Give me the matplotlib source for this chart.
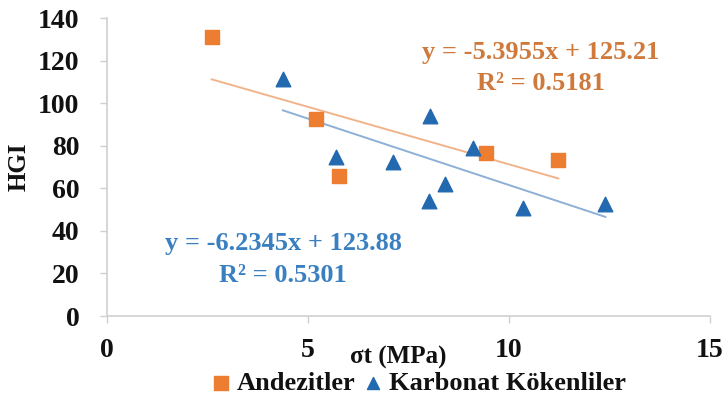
import matplotlib
matplotlib.use("Agg")
import matplotlib.pyplot as plt
import numpy as np

# Andezitler
and_x = [2.60, 5.20, 5.78, 9.44, 11.23]
and_y = [131.0, 92.5, 65.7, 76.6, 73.4]

# Karbonat Kökenliler
karb_x = [4.37, 5.70, 7.11, 8.03, 9.10, 8.42, 8.02, 10.36, 12.40]
karb_y = [111.2, 74.7, 72.3, 93.9, 78.9, 62.1, 54.2, 50.8, 52.4]

# trend katsayilari (grafikteki denklemler)
and_fit = (-5.3955, 125.21)
karb_fit = (-6.2345, 123.88)

x_ticks = [0, 5, 10, 15]
y_ticks = [0, 20, 40, 60, 80, 100, 120, 140]

orange = "#ED7D31"
blue = "#2369B0"
serif = ["Liberation Serif", "DejaVu Serif"]
ink = "#111111"

plt.rcParams["font.family"] = serif
plt.rcParams["font.weight"] = "bold"

fig = plt.figure(figsize=(7.25, 4), dpi=100)
ax = fig.add_axes([0.148, 0.21, 0.831, 0.745])

ax.scatter(and_x, and_y, marker="s", s=100, color=orange, label="Andezitler", zorder=3)
ax.scatter(karb_x, karb_y, marker="^", s=110, color=blue, label="Karbonat Kökenliler", zorder=3)

# trend cizgileri
xa = np.array([min(and_x), max(and_x)])
ax.plot(xa, and_fit[0] * xa + and_fit[1], color="#F0B48C", lw=1.4, zorder=2)
xk = np.array([min(karb_x), max(karb_x)])
ax.plot(xk, karb_fit[0] * xk + karb_fit[1], color="#8DB0D6", lw=1.4, zorder=2)

eq_size = 19
ax.text(10.8, 123.6, "y = -5.3955x + 125.21", color="#CF7A3C", fontsize=eq_size,
        fontweight="bold", ha="center", va="center")
ax.text(10.8, 109, "R² = 0.5181", color="#CF7A3C", fontsize=eq_size,
        fontweight="bold", ha="center", va="center")
ax.text(4.38, 34, "y = -6.2345x + 123.88", color="#3A80C0", fontsize=eq_size,
        fontweight="bold", ha="center", va="center")
ax.text(4.38, 19, "R² = 0.5301", color="#3A80C0", fontsize=eq_size,
        fontweight="bold", ha="center", va="center")

ax.set_xlim(0, 15)
ax.set_ylim(0, 140)
ax.set_xticks(x_ticks)
ax.set_yticks(y_ticks)
ax.tick_params(axis="both", labelsize=20, color="#D0D0D0", length=5, width=1,
               labelcolor=ink)
ax.tick_params(axis="y", pad=15)
ax.tick_params(axis="x", pad=11)
for lab in ax.get_xticklabels() + ax.get_yticklabels():
    lab.set_fontweight("bold")

for s in ["top", "right"]:
    ax.spines[s].set_visible(False)
for s in ["left", "bottom"]:
    ax.spines[s].set_color("#D0D0D0")
    ax.spines[s].set_linewidth(1.2)

ax.set_ylabel("HGI", fontsize=18, fontweight="bold", color=ink)
ax.yaxis.set_label_coords(-0.128, 0.5)
ax.set_xlabel("σt (MPa)", fontsize=18, fontweight="bold", color=ink, va="center")
ax.xaxis.set_label_coords(0.483, -0.138)

leg = fig.legend(loc="center", bbox_to_anchor=(0.566, 0.043), ncol=2, frameon=False,
                 handletextpad=-0.38, columnspacing=-0.35, markerscale=0.75,
                 prop={"family": serif, "weight": "bold", "size": 19})
leg.legend_handles[0].set_sizes([110])
leg.legend_handles[1].set_sizes([75])
for t in leg.get_texts():
    t.set_color(ink)

fig.savefig("out.png", dpi=100)
